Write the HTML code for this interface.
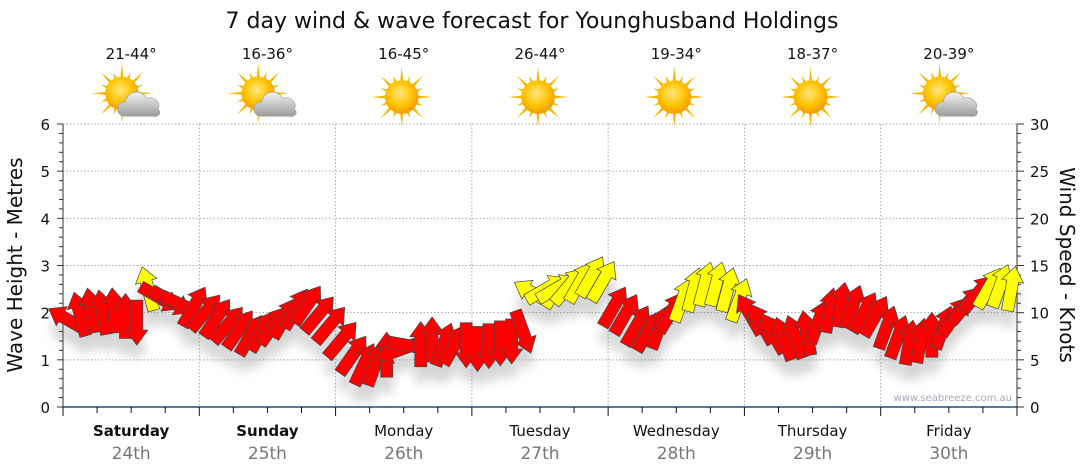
<!DOCTYPE html>
<html><head><meta charset="utf-8"><style>
body{margin:0;background:#fff;font-family:"Liberation Sans",sans-serif}
svg{display:block}
</style></head><body>
<svg id="c" width="1080" height="475" xmlns="http://www.w3.org/2000/svg" font-family="DejaVu Sans, Liberation Sans, sans-serif">
<defs>
<filter id="sh" x="-50%" y="-50%" width="200%" height="200%"><feGaussianBlur stdDeviation="5"/></filter>
<radialGradient id="sun" cx="45%" cy="40%" r="60%"><stop offset="0" stop-color="#ffe680"/><stop offset="0.6" stop-color="#ffc400"/><stop offset="1" stop-color="#f29a00"/></radialGradient>
<linearGradient id="cloud" x1="0" y1="0" x2="0" y2="1"><stop offset="0" stop-color="#f4f4f4"/><stop offset="1" stop-color="#9a9a9a"/></linearGradient>
</defs>
<text x="532" y="28" font-size="22" text-anchor="middle" fill="#111">7 day wind &amp; wave forecast for Younghusband Holdings</text>
<g id="grid"></g><g id="axes"></g><g id="icons"></g>
<g id="shadows" filter="url(#sh)" opacity="0.3"></g>
<g id="arrows"></g>
<text x="1012" y="401" font-size="10" text-anchor="end" fill="#a8a8b8">www.seabreeze.com.au</text>
<text transform="translate(22,265) rotate(-90)" font-size="20" text-anchor="middle" fill="#111">Wave Height - Metres</text>
<text transform="translate(1060,265) rotate(90)" font-size="20" text-anchor="middle" fill="#111">Wind Speed - Knots</text>
</svg>
<script>
const days=["Saturday","Sunday","Monday","Tuesday","Wednesday","Thursday","Friday"];
const dates=["24th","25th","26th","27th","28th","29th","30th"];
const temps=["21-44°","16-36°","16-45°","26-44°","19-34°","18-37°","20-39°"];
const cloudy=[1,1,0,0,0,0,1];
const leftTicks=[0,1,2,3,4,5,6];
const rightTicks=[0,5,10,15,20,25,30];
const windSpeed=[9.2,9.8,10.2,10,10.2,9.6,9,12.5,11.6,11.2,10.8,10.6,
10,9.4,8.7,8.2,7.6,8.0,8.6,9.4,10.4,10.8,9.8,8.7,
7.1,5.5,4.5,4.5,5.5,6,6.5,6.6,7.1,6.6,6.6,6.6,
6.2,6.5,6.8,7,8,12,12.5,12.6,12.8,13.2,13.8,13.3,
10.6,9.8,8.6,8.0,8.4,10,11.3,12.4,13,13,12.4,11.3,
9.8,8.8,7.8,7.2,7.4,7.8,9,10.2,10.8,10.6,10,9.6,
8.4,7.4,6.8,7,7.6,8.4,9.6,10.8,12,12.6,12.8,12.5];
const windDir=[-60,-15,-10,-10,-5,0,180,-15,120,120,115,30,
40,35,40,35,30,30,35,30,30,35,40,40,
40,35,25,20,0,250,100,0,0,20,30,180,
180,180,180,180,160,300,60,60,40,30,30,30,
30,30,30,30,20,30,20,15,15,15,15,20,
-30,-30,-30,-20,-20,-10,20,10,10,20,30,30,
20,20,10,10,0,20,35,40,40,30,20,10];
const windCat=[0,0,0,0,0,0,0,1,0,0,0,0, 0,0,0,0,0,0,0,0,0,0,0,0, 0,0,0,0,0,0,0,0,0,0,0,0,
0,0,0,0,0,1,1,1,1,1,1,1, 0,0,0,0,0,0,1,1,1,1,1,1, 0,0,0,0,0,0,0,0,0,0,0,0, 0,0,0,0,0,0,0,0,0,1,1,1];

const NS="http://www.w3.org/2000/svg";
const X0=63,X1=1017,Y0=407,Y1=124,DW=(X1-X0)/7;
const yL=v=>Y0-(v/6)*(Y0-Y1), yR=v=>Y0-(v/30)*(Y0-Y1), xT=h=>X0+(h/168)*(X1-X0);
function mk(t,a,p){const e=document.createElementNS(NS,t);for(const k in a)e.setAttribute(k,a[k]);(p||document.getElementById('c')).appendChild(e);return e;}
const grid=document.getElementById('grid'),axes=document.getElementById('axes'),icons=document.getElementById('icons');
leftTicks.forEach(v=>{if(v>0){const g=mk('line',{x1:X0,x2:X1,y1:yL(v),y2:yL(v),stroke:'#aaa','stroke-dasharray':'1.5,2'},grid);

}
const t=mk('text',{x:50,y:yL(v)+6,'font-size':15,'text-anchor':'end',fill:'#111'},axes);t.textContent=v;

});
for(let v=0;v<=6.001;v+=0.2){const m=Math.abs(v-Math.round(v))<0.01;mk('line',{x1:X0-(m?6:4),x2:X0,y1:yL(v),y2:yL(v),stroke:'#333'},axes);}
rightTicks.forEach(v=>{const t=mk('text',{x:1030,y:yR(v)+6,'font-size':15,fill:'#111'},axes);t.textContent=v;

});
for(let v=0;v<=30;v++){mk('line',{x1:X1,x2:X1+(v%5==0?7:4),y1:yR(v),y2:yR(v),stroke:'#333'},axes);}
mk('line',{x1:X0,x2:X0,y1:Y1,y2:Y0,stroke:'#333'},axes);
mk('line',{x1:X1,x2:X1,y1:Y1,y2:Y0,stroke:'#333'},axes);
mk('line',{x1:X0,x2:X1,y1:Y0,y2:Y0,stroke:'#1f4e79','stroke-width':1.5},axes);
for(let h=0;h<=168;h+=6){const x=xT(h);mk('line',{x1:x,x2:x,y1:Y0,y2:Y0+(h%24==0?9:6),stroke:'#111'},axes);
if(h%24==0&&h>0&&h<168){const g=mk('line',{x1:x,x2:x,y1:Y1,y2:Y0,stroke:'#aaa','stroke-dasharray':'1.5,2'},grid);

}}
days.forEach((d,i)=>{const cx=X0+DW*(i+0.5);
const t=mk('text',{x:cx,y:436,'font-size':15,'text-anchor':'middle',fill:'#111','font-weight':i<2?'bold':'normal'},axes);t.textContent=d;


const t2=mk('text',{x:cx,y:459,'font-size':17,'text-anchor':'middle',fill:'#777'},axes);t2.textContent=dates[i];


const t3=mk('text',{x:cx,y:59,'font-size':15,'text-anchor':'middle',fill:'#111'},icons);t3.textContent=temps[i];


const g=mk('g',{transform:`translate(${cx-2},${97}) scale(1.2)`},icons);


const sx=cloudy[i]?-6:0,sy=cloudy[i]?-3:0;
for(let a=0;a<360;a+=22.5){const r=(a*Math.PI)/180,L=(a/22.5)%2?19:25;
mk('polygon',{points:`${sx+Math.cos(r-0.12)*12},${sy+Math.sin(r-0.12)*12} ${sx+Math.cos(r)*L},${sy+Math.sin(r)*L} ${sx+Math.cos(r+0.12)*12},${sy+Math.sin(r+0.12)*12}`,fill:'#f5b800'},g);}
mk('circle',{cx:sx,cy:sy,r:14,fill:'url(#sun)'},g);
if(cloudy[i]){mk('path',{d:'M-3,16 C-12,16 -12,4 -3,4 C-2,-5 11,-7 14,1 C22,-1 27,6 24,10 C28,13 24,17 20,16 Z',fill:'url(#cloud)',stroke:'#999','stroke-width':0.5},g);}
});
const sh=document.getElementById('shadows'),ar=document.getElementById('arrows');
const shape="M-6,22 L6,22 L6,-8 L11,-8 L0,-23 L-11,-8 L-6,-8 Z";
windSpeed.forEach((v,i)=>{const x=X0+(i+0.5)*(X1-X0)/windSpeed.length,y=yR(v);
mk('path',{d:shape,transform:`translate(${x},${y+16}) rotate(${windDir[i]})`,fill:'#777'},sh);
const a=mk('path',{d:shape,transform:`translate(${x},${y}) rotate(${windDir[i]})`,fill:windCat[i]?'#ffff00':'#ff0000',stroke:'#444','stroke-width':0.7},ar);

});
</script>
</body></html>
